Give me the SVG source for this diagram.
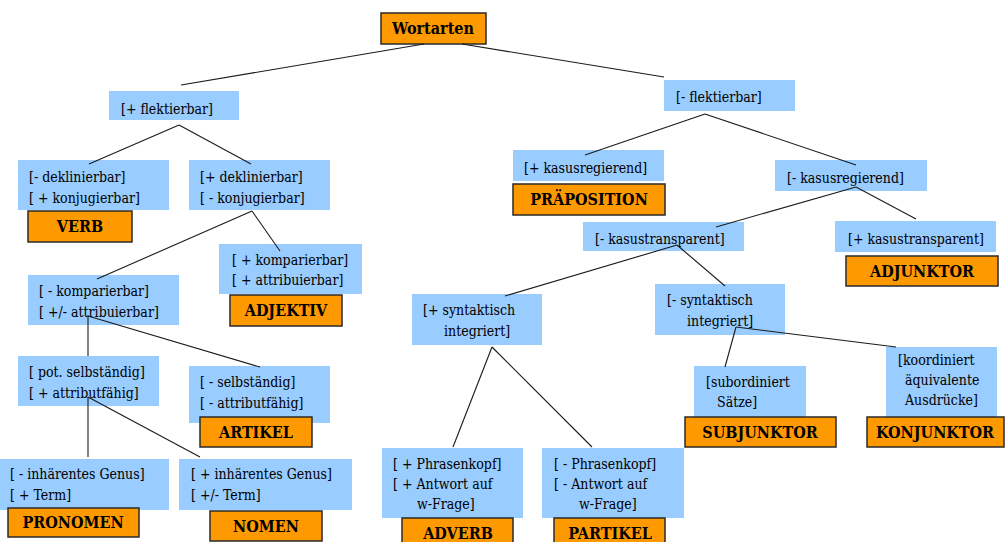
<svg xmlns="http://www.w3.org/2000/svg" width="1008" height="542" viewBox="0 0 1008 542">
<style>
.f{fill:#99CCFF}
.c{fill:#FF9900;stroke:#2a2a2a;stroke-width:1.5}
.t{font-family:"DejaVu Serif Condensed","DejaVu Serif","Liberation Serif",serif;font-stretch:condensed;font-size:14px}
.b{font-weight:bold;text-anchor:middle;font-size:16px}
#connectors line{stroke:#1a1a1a;stroke-width:1.1}
</style>
<rect width="1008" height="542" fill="#fff"/>
<g class="t">
<g id="wortarten"><rect class="c" x="381" y="13" width="105" height="31"/><text class="b" x="433" y="34">Wortarten</text></g>
<g id="plus-flektierbar"><rect class="f" x="109" y="91" width="130" height="29"/><text x="121" y="114">[+ flektierbar]</text></g>
<g id="minus-flektierbar"><rect class="f" x="664" y="80" width="131" height="31"/><text x="676" y="102">[- flektierbar]</text></g>
<g id="minus-deklinierbar"><rect class="f" x="18" y="160" width="151" height="50"/><text x="29" y="182">[- deklinierbar]</text><text x="29" y="203">[ + konjugierbar]</text></g>
<g id="verb"><rect class="c" x="28" y="211" width="104" height="31"/><text class="b" x="80" y="232">VERB</text></g>
<g id="plus-deklinierbar"><rect class="f" x="189" y="160" width="141" height="50"/><text x="200" y="182">[+ deklinierbar]</text><text x="200" y="203">[ - konjugierbar]</text></g>
<g id="plus-komparierbar"><rect class="f" x="219" y="244" width="143" height="50"/><text x="232" y="265">[ + komparierbar]</text><text x="232" y="285">[ + attribuierbar]</text></g>
<g id="adjektiv"><rect class="c" x="230" y="295" width="112" height="31"/><text class="b" x="286" y="316">ADJEKTIV</text></g>
<g id="minus-komparierbar"><rect class="f" x="28" y="275" width="151" height="50"/><text x="39" y="296">[ - komparierbar]</text><text x="39" y="317">[ +/- attribuierbar]</text></g>
<g id="pot-selbstaendig"><rect class="f" x="18" y="356" width="141" height="50"/><text x="29" y="377">[ pot. selbständig]</text><text x="29" y="398">[ + attributfähig]</text></g>
<g id="minus-selbstaendig"><rect class="f" x="189" y="366" width="141" height="57"/><text x="200" y="387">[ - selbständig]</text><text x="200" y="408">[ - attributfähig]</text></g>
<g id="artikel"><rect class="c" x="200" y="417" width="112" height="30"/><text class="b" x="256" y="438">ARTIKEL</text></g>
<g id="minus-genus"><rect class="f" x="0" y="459" width="169" height="51"/><text x="10" y="479">[ - inhärentes Genus]</text><text x="10" y="500">[ + Term]</text></g>
<g id="pronomen"><rect class="c" x="8" y="508" width="131" height="29"/><text class="b" x="73" y="528">PRONOMEN</text></g>
<g id="plus-genus"><rect class="f" x="179" y="459" width="173" height="51"/><text x="191" y="479">[ + inhärentes Genus]</text><text x="191" y="500">[ +/- Term]</text></g>
<g id="nomen"><rect class="c" x="210" y="511" width="112" height="30"/><text class="b" x="266" y="532">NOMEN</text></g>
<g id="plus-kasusregierend"><rect class="f" x="513" y="150" width="151" height="31"/><text x="524" y="173">[+ kasusregierend]</text></g>
<g id="praeposition"><rect class="c" x="513" y="184" width="152" height="31"/><text class="b" x="589" y="205">PRÄPOSITION</text></g>
<g id="minus-kasusregierend"><rect class="f" x="775" y="160" width="152" height="31"/><text x="787" y="183">[- kasusregierend]</text></g>
<g id="minus-kasustransparent"><rect class="f" x="583" y="222" width="161" height="29"/><text x="595" y="244">[- kasustransparent]</text></g>
<g id="plus-kasustransparent"><rect class="f" x="835" y="221" width="161" height="31"/><text x="848" y="244">[+ kasustransparent]</text></g>
<g id="adjunktor"><rect class="c" x="846" y="256" width="152" height="30"/><text class="b" x="922" y="277">ADJUNKTOR</text></g>
<g id="plus-syntaktisch"><rect class="f" x="412" y="294" width="130" height="51"/><text x="423" y="315">[+ syntaktisch</text><text x="444" y="336">integriert]</text></g>
<g id="minus-syntaktisch"><rect class="f" x="655" y="284" width="130" height="51"/><text x="667" y="305">[- syntaktisch</text><text x="687" y="326">integriert]</text></g>
<g id="subordiniert"><rect class="f" x="694" y="366" width="112" height="51"/><text x="706" y="387">[subordiniert</text><text x="717" y="407">Sätze]</text></g>
<g id="subjunktor"><rect class="c" x="685" y="417" width="151" height="30"/><text class="b" x="760" y="438">SUBJUNKTOR</text></g>
<g id="koordiniert"><rect class="f" x="886" y="347" width="111" height="70"/><text x="898" y="365">[koordiniert</text><text x="905" y="385">äquivalente</text><text x="905" y="405">Ausdrücke]</text></g>
<g id="konjunktor"><rect class="c" x="867" y="417" width="137" height="30"/><text class="b" x="935" y="438">KONJUNKTOR</text></g>
<g id="plus-phrasenkopf"><rect class="f" x="382" y="448" width="141" height="70"/><text x="393" y="469">[ + Phrasenkopf]</text><text x="393" y="489">[ + Antwort auf</text><text x="417" y="509">w-Frage]</text></g>
<g id="adverb"><rect class="c" x="402" y="518" width="111" height="30"/><text class="b" x="458" y="539">ADVERB</text></g>
<g id="minus-phrasenkopf"><rect class="f" x="542" y="448" width="142" height="70"/><text x="554" y="469">[ - Phrasenkopf]</text><text x="554" y="489">[ - Antwort auf</text><text x="579" y="509">w-Frage]</text></g>
<g id="partikel"><rect class="c" x="554" y="518" width="111" height="30"/><text class="b" x="610" y="539">PARTIKEL</text></g>
</g>
<g id="connectors">
<line x1="424" y1="44" x2="181" y2="85"/>
<line x1="462" y1="44" x2="664" y2="77"/>
<line x1="179" y1="125" x2="89" y2="164"/>
<line x1="179" y1="125" x2="251" y2="164"/>
<line x1="252" y1="211" x2="97" y2="279"/>
<line x1="252" y1="211" x2="280" y2="251"/>
<line x1="88" y1="316" x2="88" y2="356"/>
<line x1="88" y1="316" x2="260" y2="367"/>
<line x1="88" y1="397" x2="88" y2="457"/>
<line x1="88" y1="397" x2="200" y2="457"/>
<line x1="705" y1="114" x2="585" y2="155"/>
<line x1="705" y1="114" x2="856" y2="165"/>
<line x1="856" y1="187" x2="716" y2="227"/>
<line x1="856" y1="187" x2="916" y2="219"/>
<line x1="677" y1="245" x2="505" y2="296"/>
<line x1="677" y1="245" x2="725" y2="286"/>
<line x1="492" y1="347" x2="453" y2="447"/>
<line x1="492" y1="347" x2="592" y2="447"/>
<line x1="736" y1="327" x2="725" y2="367"/>
<line x1="736" y1="327" x2="896" y2="347"/>
</g>
</svg>
